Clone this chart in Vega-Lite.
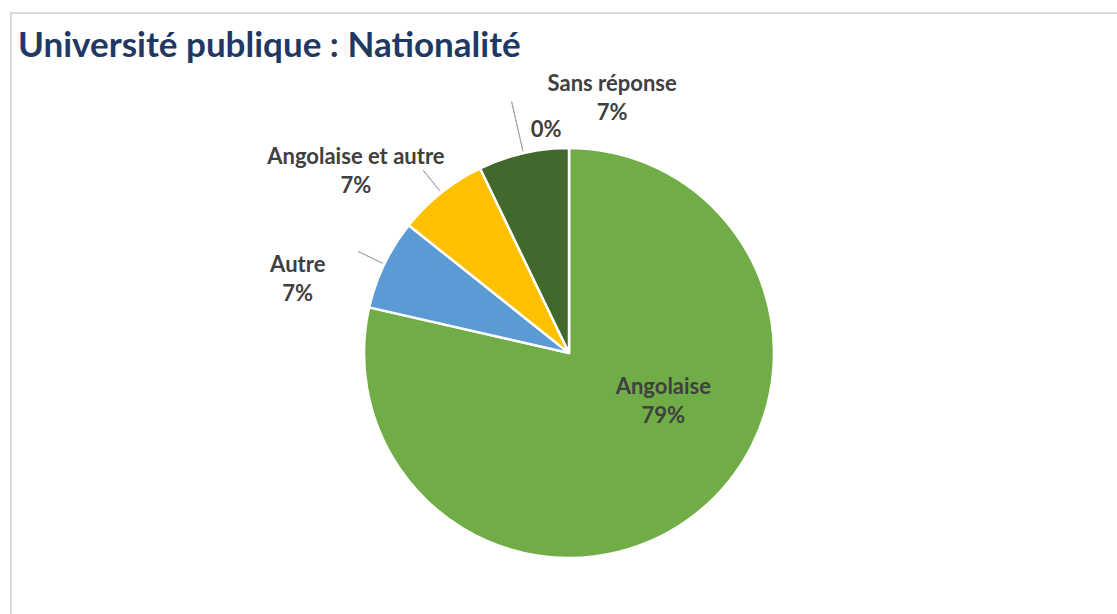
{
  "$schema": "https://vega.github.io/schema/vega-lite/v6.json",
  "autosize": {"type": "fit", "contains": "padding"},
  "width": 1117,
  "height": 614,
  "padding": {"left": 10, "top": 12, "right": -3, "bottom": -3},
  "background": "#ffffff",
  "config": {
    "view": {"stroke": null},
    "text": {"font": "Lato", "fontWeight": "bold", "fontSize": 22, "color": "#404040", "lineBreak": "\n", "lineHeight": 29}
  },
  "title": {
    "text": "Université publique : Nationalité",
    "anchor": "start",
    "frame": "group",
    "orient": "top",
    "offset": -80,
    "dx": 7,
    "baseline": "alphabetic",
    "font": "Lato",
    "fontWeight": "bold",
    "fontSize": 35,
    "color": "#1F3864"
  },
  "data": {
    "values": [
      {"nationalite": "Angolaise", "n": 11, "ordre": 1},
      {"nationalite": "Autre", "n": 1, "ordre": 2},
      {"nationalite": "Angolaise et autre", "n": 1, "ordre": 3},
      {"nationalite": "", "n": 0, "ordre": 4},
      {"nationalite": "Sans réponse", "n": 1, "ordre": 5}
    ]
  },
  "transform": [
    {"joinaggregate": [{"op": "sum", "field": "n", "as": "total"}]},
    {"calculate": "datum.n / datum.total", "as": "pct"},
    {"stack": "n", "groupby": [], "sort": [{"field": "ordre", "order": "ascending"}], "as": ["s0", "s1"]},
    {"calculate": "(datum.s0 + datum.s1) / 2", "as": "mid"},
    {"calculate": "(datum.nationalite ? datum.nationalite + '\\n' : '') + format(datum.pct, '.0%')", "as": "label"}
  ],
  "layer": [
    {
      "transform": [{"filter": "datum.ordre == 1"}],
      "mark": {"type": "rect", "fill": null, "stroke": "#D9D9D9", "strokeWidth": 2},
      "encoding": {
        "x": {"value": 0},
        "x2": {"value": "width"},
        "y": {"value": 0},
        "y2": {"value": "height"}
      }
    },
    {
      "transform": [{"filter": "datum.n > 0"}],
      "mark": {"type": "arc", "x": 558, "y": 340, "outerRadius": 205, "stroke": "#ffffff", "strokeWidth": 2.5},
      "encoding": {
        "theta": {"field": "s0", "type": "quantitative", "stack": null, "scale": {"domain": [0, 14]}},
        "theta2": {"field": "s1"},
        "color": {
          "field": "nationalite",
          "type": "nominal",
          "scale": {
            "domain": ["Angolaise", "Autre", "Angolaise et autre", "", "Sans réponse"],
            "range": ["#70AD47", "#5B9BD5", "#FFC000", "#A5A5A5", "#43682B"]
          },
          "legend": null
        }
      }
    },
    {
      "transform": [{"filter": "datum.ordre == 2 || datum.ordre == 3"}],
      "mark": {"type": "arc", "x": 558, "y": 340, "outerRadius": 234, "innerRadius": 207, "stroke": "#A6A6A6", "strokeWidth": 1, "fill": null},
      "encoding": {
        "theta": {"field": "mid", "type": "quantitative", "stack": null, "scale": {"domain": [0, 14]}},
        "theta2": {"field": "mid"}
      }
    },
    {
      "transform": [{"filter": "datum.ordre == 5"}],
      "mark": {"type": "arc", "x": 558, "y": 340, "outerRadius": 258, "innerRadius": 207, "stroke": "#A6A6A6", "strokeWidth": 1, "fill": null},
      "encoding": {
        "theta": {"field": "mid", "type": "quantitative", "stack": null, "scale": {"domain": [0, 14]}},
        "theta2": {"field": "mid"}
      }
    },
    {
      "transform": [{"filter": "datum.ordre == 1"}],
      "mark": {"type": "text", "x": 558, "y": 340, "radius": 100, "dx": 32, "dy": -44, "align": "center", "baseline": "middle"},
      "encoding": {
        "theta": {"field": "mid", "type": "quantitative", "stack": null, "scale": {"domain": [0, 14]}},
        "text": {"field": "label"}
      }
    },
    {
      "transform": [{"filter": "datum.ordre == 2"}],
      "mark": {"type": "text", "x": 558, "y": 340, "radius": 260, "dx": -37, "dy": 25, "align": "center", "baseline": "middle"},
      "encoding": {
        "theta": {"field": "mid", "type": "quantitative", "stack": null, "scale": {"domain": [0, 14]}},
        "text": {"field": "label"}
      }
    },
    {
      "transform": [{"filter": "datum.ordre == 3"}],
      "mark": {"type": "text", "x": 558, "y": 340, "radius": 260, "dx": -51, "dy": 7, "align": "center", "baseline": "middle"},
      "encoding": {
        "theta": {"field": "mid", "type": "quantitative", "stack": null, "scale": {"domain": [0, 14]}},
        "text": {"field": "label"}
      }
    },
    {
      "transform": [{"filter": "datum.ordre == 4"}],
      "mark": {"type": "text", "x": 558, "y": 340, "radius": 230, "dx": 77, "dy": -16, "align": "center", "baseline": "middle"},
      "encoding": {
        "theta": {"field": "mid", "type": "quantitative", "stack": null, "scale": {"domain": [0, 14]}},
        "text": {"field": "label"}
      }
    },
    {
      "transform": [{"filter": "datum.ordre == 5"}],
      "mark": {"type": "text", "x": 558, "y": 340, "radius": 260, "dx": 101, "dy": -16, "align": "center", "baseline": "middle"},
      "encoding": {
        "theta": {"field": "mid", "type": "quantitative", "stack": null, "scale": {"domain": [0, 14]}},
        "text": {"field": "label"}
      }
    }
  ]
}
